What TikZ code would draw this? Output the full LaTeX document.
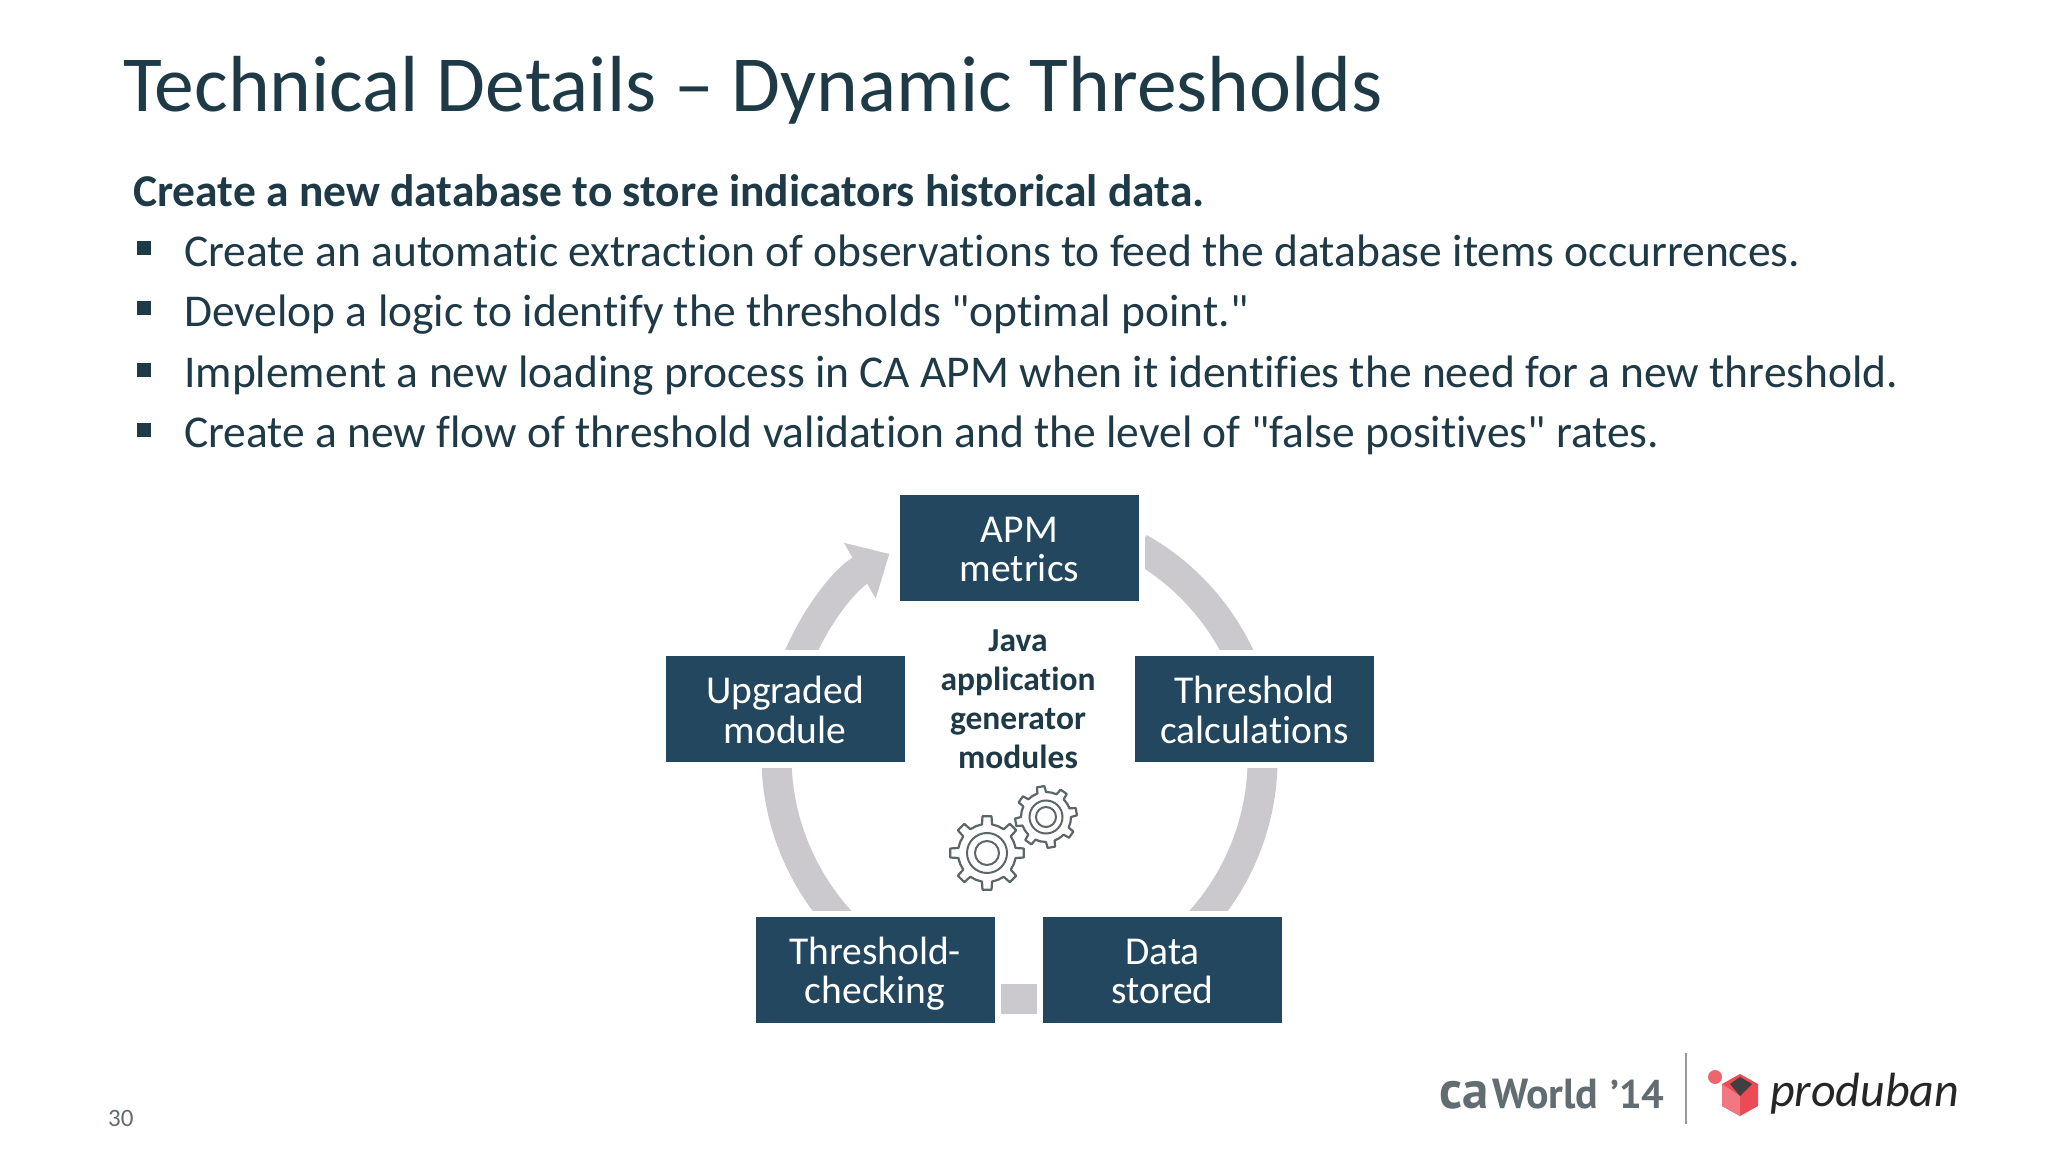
\documentclass[tikz,border=0pt]{standalone}
\usepackage{fontspec}
\setmainfont{Carlito}[Ligatures={TeXOff,CommonOff}]
\newfontfamily\logofont{PT Sans}
\usetikzlibrary{arrows.meta,calc}
\pgfdeclarelayer{bg}
\pgfsetlayers{bg,main}
\definecolor{boxcol}{HTML}{22475E}
\definecolor{inkcol}{HTML}{1F3A47}
\definecolor{ringcol}{HTML}{CBC9CD}
\definecolor{gearcol}{HTML}{5C6668}
\definecolor{logocol}{HTML}{626D71}
\definecolor{cubered}{HTML}{EC4A55}
\tikzset{
  txt/.style={anchor=base west,inner sep=0pt,text=inkcol},
  bodytxt/.style={txt,font=\fontsize{45.5}{48}\selectfont},
  sq/.style={fill=inkcol,minimum size=14pt,inner sep=0pt,draw=none},
  cyclebox/.style={preaction={draw=white,line width=12pt},fill=boxcol,text=white,
    minimum width=239pt,minimum height=106pt,inner sep=0pt,align=center,
    font=\fontsize{39.5}{39.3}\selectfont},
  ring/.style={draw=ringcol,line width=30pt},
  gearline/.style={draw=gearcol,line width=2.2pt,fill=white,line join=round},
  gearring/.style={draw=gearcol,line width=2pt},
}
\newcommand{\boxlines}[2]{\raisebox{-14pt}[0pt][0pt]{#1}\\\raisebox{-14pt}[0pt][0pt]{#2}}
\newcommand{\gearshape}[5]{% x y outer root rotation
  \draw[gearline] \foreach \k in {0,...,7}{
      \ifnum\k=0 ($(#1,#2)+(#5+45*\k-10:#4 pt)$) \else -- ($(#1,#2)+(#5+45*\k-10:#4 pt)$) \fi
      -- ($(#1,#2)+(#5+45*\k-7:#3 pt)$) -- ($(#1,#2)+(#5+45*\k+7:#3 pt)$)
      -- ($(#1,#2)+(#5+45*\k+10:#4 pt)$) -- ($(#1,#2)+(#5+45*\k+22.5:#4 pt)$)
  } -- cycle;
}
\begin{document}
\begin{tikzpicture}[x=1pt,y=1pt]
\useasboundingbox (0,0) rectangle (2048,1152);
\begin{pgfonlayer}{bg}
\fill[white] (0,0) rectangle (2048,1152);
\end{pgfonlayer}

\node[txt,font=\fontsize{79.5}{84}\selectfont] (title) at (123,1040) {Technical Details – Dynamic Thresholds};
\node[bodytxt,font=\fontsize{45.5}{48}\bfseries\selectfont] (lead) at (133,945.5) {Create a new database to store indicators historical data.};
\node[sq] (b1) at (143.7,904) {};
\node[sq] (b2) at (143.7,844) {};
\node[sq] (b3) at (143.7,782.4) {};
\node[sq] (b4) at (143.7,722) {};
\node[bodytxt] (t1) at (184,885.5) {Create an automatic extraction of observations to feed the database items occurrences.};
\node[bodytxt] (t2) at (184,825) {Develop a logic to identify the thresholds "optimal point."};
\node[bodytxt] (t3) at (184,764) {Implement a new loading process in CA APM when it identifies the need for a new threshold.};
\node[bodytxt] (t4) at (184,704) {Create a new flow of threshold validation and the level of "false positives" rates.};

\node[cyclebox] (apm) at (1019.5,604) {\boxlines{APM}{metrics}};
\node[cyclebox] (calc) at (1254.5,442.5) {\boxlines{Threshold}{calculations}};
\node[cyclebox] (upg) at (785,442.5) {\boxlines{Upgraded}{module}};
\node[cyclebox] (check) at (875,182) {\boxlines{Threshold-}{checking}};
\node[cyclebox] (data) at (1162.5,182) {\boxlines{Data}{stored}};

\begin{pgfonlayer}{bg}
\draw[ring] (apm.east) to[out=-29.4,in=101.8,looseness=.89] ([xshift=3pt]calc.center);
\draw[ring] ([xshift=3pt]calc.center) to[out=-78.2,in=29.2,looseness=.94] ([xshift=-23.5pt]data.center);
\draw[ring] ([yshift=-29pt]data.west) -- ([yshift=-29pt]check.east);
\draw[ring] ([xshift=27pt]check.center) to[out=150.8,in=258.2,looseness=.94] ([xshift=-3.5pt]upg.center);
\draw[ring,-{Triangle[width=62pt,length=34pt]},shorten >=12pt] ([xshift=-3.5pt]upg.center) to[out=78.2,in=209.6,looseness=.89] (apm.west);
\end{pgfonlayer}

\node[inner sep=0pt,align=center,text=inkcol,font=\fontsize{33.5}{39.1}\bfseries\selectfont] (java) at (1018,453) {Java\\application\\generator\\modules};

\gearshape{1046}{335}{31}{25}{10}
\draw[gearring] (1046,335) circle (16.5pt);
\draw[gearring] (1046,335) circle (10pt);
\gearshape{987}{299}{37}{29}{0}
\draw[gearring] (987,299) circle (20pt);
\draw[gearring] (987,299) circle (12pt);

\node[txt,font=\fontsize{25}{26}\selectfont,text=logocol] (page) at (108,26) {30};

\node[anchor=base west,inner sep=0pt,text=logocol,font=\logofont\bfseries\fontsize{53}{53}\selectfont] (ca) at (1439,44) {ca};
\node[anchor=base west,inner sep=0pt,text=logocol,font=\logofont\bfseries\fontsize{42}{42}\selectfont] (world) at (1492,44) {World};
\node[anchor=base west,inner sep=0pt,text=logocol,font=\logofont\bfseries\fontsize{40}{40}\selectfont] (yr) at (1610,44) {’14};
\draw[draw=gray!80,line width=1.2pt] (1686,99) -- (1686,28);

\fill[cubered!85] (1715,75) circle (7pt);
\fill[cubered] (1740,78) -- (1758,68) -- (1758,46) -- (1740,36) -- (1722,46) -- (1722,68) -- cycle;
\fill[cubered!75!white] (1740,56) -- (1740,36) -- (1722,46) -- (1722,68) -- cycle;
\fill[black!75] (1740,56) -- (1752,68) -- (1740,75) -- (1730,68) -- cycle;
\node[anchor=base west,inner sep=0pt,text=black!85,font=\fontsize{48}{50}\itshape\selectfont] (prod) at (1770,46) {produban};
\end{tikzpicture}
\end{document}
